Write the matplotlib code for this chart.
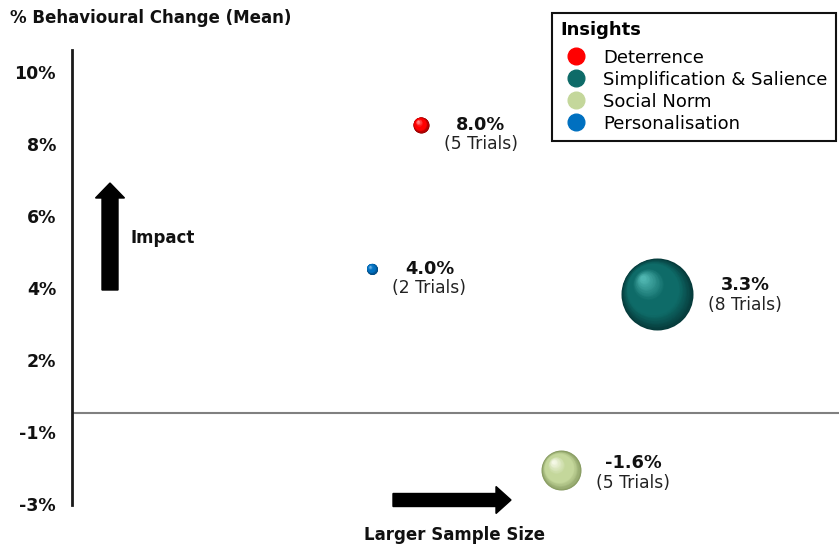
import numpy as np
import matplotlib
matplotlib.use("Agg")
import matplotlib.pyplot as plt
from matplotlib import patches
from matplotlib.colors import to_rgb
from matplotlib.lines import Line2D
from matplotlib.transforms import IdentityTransform, offset_copy

# DATA
insights = ["Deterrence", "Simplification & Salience", "Social Norm", "Personalisation"]
change_mean = [8.0, 3.3, -1.6, 4.0]          # % behavioural change
trials = [5, 8, 5, 2]
sample_pos = [45.5, 76.3, 63.8, 39.1]        # position along "sample size" axis
bubble_size = [16, 72, 40, 11]               # bubble diameter (px)
colors = ["#FF0000", "#0E6B68", "#C4D79B", "#0070C0"]
tick_vals = [9.47, 7.47, 5.47, 3.47, 1.47, -0.53, -2.53]
tick_labels = ["10%", "8%", "6%", "4%", "2%", "-1%", "-3%"]

# sphere shading colours (edge, highlight)
edge_cols = ["#8a0000", "#063a3a", "#869a60", "#003f70"]
hi_cols = ["#ff8c8c", "#4fb5b0", "#f4f8e6", "#6cb0e4"]
# label vertical nudge (px)
label_dy = [0, -9, -7, 0]

W, H = 839, 547
fig = plt.figure(figsize=(W / 100, H / 100), dpi=100)
ax = fig.add_axes([72 / W, (H - 505) / H, (W - 72) / W, (505 - 50) / H])
ax.set_xlim(0, 100)
ax.set_ylim(-2.56, 10.08)

for s in ["top", "right", "bottom"]:
    ax.spines[s].set_visible(False)
ax.spines["left"].set_linewidth(2)
ax.spines["left"].set_color("#1a1a1a")
ax.set_xticks([])
ax.set_yticks(tick_vals)
ax.set_yticklabels(tick_labels, fontweight="bold", fontsize=12.5, color="#111111")
ax.tick_params(axis="y", length=0, pad=11.5)
ax.axhline(0, color="#808080", lw=1.5, zorder=1)


def mix(c1, c2, t):
    a = np.array(to_rgb(c1))
    b = np.array(to_rgb(c2))
    return tuple(a + (b - a) * t)


def sphere(x, y, d, base, edge, hi):
    n = 40
    for i in range(n):
        t = i / (n - 1)
        dd = d * (1 - 0.92 * t)
        off = 0.22 * d * t * 0.72
        tr = offset_copy(ax.transData, fig=fig, x=-off * 0.9, y=off, units="points")
        if t < 0.3:
            c = mix(edge, base, t / 0.3)
        elif t < 0.6:
            c = base
        else:
            c = mix(base, hi, (t - 0.6) / 0.4)
        ax.scatter([x], [y], s=(dd * 0.72) ** 2, color=c, lw=0, transform=tr, zorder=3 + i * 0.01)


for i in range(len(insights)):
    x, y, d = sample_pos[i], change_mean[i], bubble_size[i]
    sphere(x, y, d, colors[i], edge_cols[i], hi_cols[i])
    dx = (d / 2 + 52) * 0.72
    ax.annotate(f"{change_mean[i]:.1f}%", (x, y), xytext=(dx, -label_dy[i] * 0.72),
                textcoords="offset points", ha="center", va="center",
                fontsize=12.8, fontweight="bold", color="#111111")
    ax.annotate(f"({trials[i]} Trials)", (x, y), xytext=(dx, (-label_dy[i] - 19.5) * 0.72),
                textcoords="offset points", ha="center", va="center",
                fontsize=12.3, color="#222222")

# legend
handles = [Line2D([], [], marker="o", ls="", markersize=12, color=c) for c in colors]
leg = ax.legend(handles, insights, loc="upper left", bbox_to_anchor=(552 / W, 1 - 13 / H),
                bbox_transform=fig.transFigure, borderaxespad=0, title="Insights",
                fancybox=False, edgecolor="#111111", framealpha=1, fontsize=13,
                handletextpad=0.6, labelspacing=0.22, borderpad=0.45, handlelength=1.8,
                title_fontproperties={"weight": "bold", "size": 13})
leg.get_frame().set_linewidth(1.5)
leg._legend_box.align = "left"
leg._legend_box.sep = leg._legend_box.sep + 4

# axis titles
fig.text(10 / W, 1 - 18 / H, "% Behavioural Change (Mean)", fontweight="bold",
         fontsize=12, va="center", ha="left", color="#111111")
fig.text(130 / W, 1 - 238 / H, "Impact", fontweight="bold", fontsize=12,
         va="center", ha="left", color="#111111")
fig.text(455 / W, 1 - 535 / H, "Larger Sample Size", fontweight="bold", fontsize=12,
         va="center", ha="center", color="#111111")

# arrows (display pixels)
fig.add_artist(patches.FancyArrow(110, H - 290, 0, 107, width=16, head_width=29,
                                  head_length=15, length_includes_head=True,
                                  transform=IdentityTransform(), color="black"))
fig.add_artist(patches.FancyArrow(393, H - 500, 118, 0, width=13, head_width=27,
                                  head_length=15, length_includes_head=True,
                                  transform=IdentityTransform(), color="black"))

fig.savefig("out.png", dpi=100)
